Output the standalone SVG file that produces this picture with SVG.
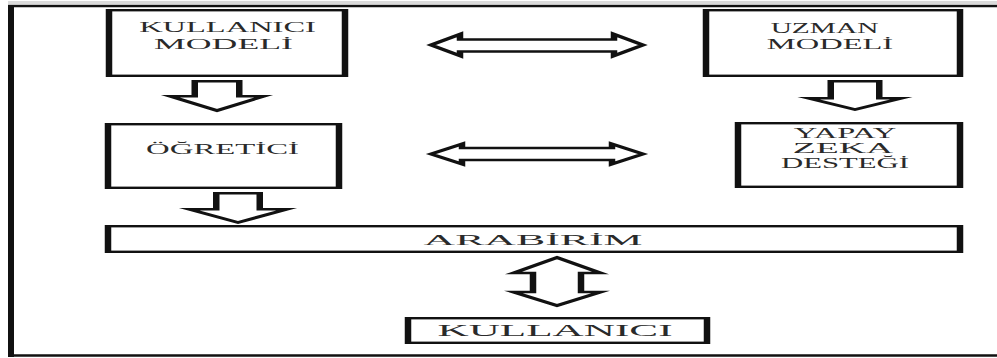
<svg xmlns="http://www.w3.org/2000/svg" width="997" height="358" viewBox="0 0 997 358">
  <defs>
    <style>
      .frame { fill: none; stroke: #111; }
      .box { fill: #fff; stroke: #111; stroke-width: 2.4; }
      .side { fill: none; stroke: #111; stroke-width: 6.5; stroke-linecap: butt; }
      .blk { fill: #fff; stroke: #111; stroke-width: 2.6; stroke-linejoin: miter; }
      .lbl { font-family: "Liberation Serif", "Times New Roman", serif; fill: #2a2a2a; text-anchor: middle; }
    </style>
  </defs>
  <rect width="997" height="358" fill="#fff"/>

  <!-- outer frame: heavy left rule, light top and bottom rules -->
  <g id="frame">
    <path d="M 8 2.5 H 997" stroke="#dadada" stroke-width="3" fill="none"/>
    <path class="frame" d="M 8 6 H 997" stroke-width="2.5"/>
    <path class="frame" d="M 8 355.5 H 997" stroke-width="2.5"/>
    <path class="frame" d="M 11 5 V 357" stroke-width="6"/>
  </g>

  <!-- connectors: block arrows, drawn in a horizontally stretched local frame -->
  <g id="connectors">
    <path class="blk" transform="translate(537 0) scale(2.5 1)" d="M -42.4 45 L -30.8 34.3 V 39.5 H 30.8 V 34.3 L 42.4 45 L 30.8 55.7 V 51.5 H -30.8 V 55.7 Z"/>
    <path class="blk" transform="translate(537 0) scale(2.5 1)" d="M -42.4 154 L -30 144 V 148 H 30 V 144 L 42.4 154 L 30 164 V 160 H -30 V 164 Z"/>
    <path class="blk" transform="translate(217 0) scale(2.5 1)" d="M -8.9 81.3 H 8.9 V 96.3 H 18.6 L 0 110.5 L -18.6 96.3 H -8.9 Z"/>
    <path class="blk" transform="translate(855 0) scale(2.5 1)" d="M -9.7 81.3 H 9.7 V 98.3 H 18.4 L 0 109.5 L -18.4 98.3 H -9.7 Z"/>
    <path class="blk" transform="translate(238 0) scale(2.5 1)" d="M -8.7 193.3 H 8.7 V 209.3 H 19.4 L 0 222.5 L -19.4 209.3 H -8.7 Z"/>
    <path class="blk" transform="translate(557 0) scale(2.5 1)" d="M 0 257.5 L 17.4 273 H 9.6 V 292 H 17.4 L 0 305.5 L -17.4 292 H -9.6 V 273 H -17.4 Z"/>
  </g>

  <!-- labels are widened with a horizontal scale, as in the printed figure -->
  <g id="kullanici-modeli">
    <rect class="box" x="109" y="10.2" width="236" height="65.6"/>
    <path class="side" d="M 109 9 V 77 M 345 9 V 77"/>
    <text class="lbl" font-size="14" transform="translate(227.5 32) scale(2.32 1)">KULLANICI</text>
    <text class="lbl" font-size="14" transform="translate(223.5 49) scale(2.55 1)">MODELİ</text>
  </g>

  <g id="uzman-modeli">
    <rect class="box" x="706" y="10.2" width="254" height="65.6"/>
    <path class="side" d="M 706 9 V 77 M 960 9 V 77"/>
    <text class="lbl" font-size="14" transform="translate(824.5 33) scale(2.1 1)">UZMAN</text>
    <text class="lbl" font-size="14" transform="translate(830 49) scale(2.32 1)">MODELİ</text>
  </g>

  <g id="ogretici">
    <rect class="box" x="108" y="124.2" width="231" height="63.6"/>
    <path class="side" d="M 108 123 V 189 M 339 123 V 189"/>
    <text class="lbl" font-size="14" transform="translate(222.5 154) scale(2.34 1)">ÖĞRETİCİ</text>
  </g>

  <g id="yapay-zeka-destegi">
    <rect class="box" x="738" y="123.2" width="222" height="63.6"/>
    <path class="side" d="M 738 122 V 188 M 960 122 V 188"/>
    <text class="lbl" font-size="14.5" transform="translate(845 138) scale(2.24 1)">YAPAY</text>
    <text class="lbl" font-size="14.5" transform="translate(843 153) scale(2.6 1)">ZEKA</text>
    <text class="lbl" font-size="14.5" transform="translate(845 168) scale(2.12 1)">DESTEĞİ</text>
  </g>

  <g id="arabirim">
    <rect class="box" x="108" y="226.2" width="852" height="25.6"/>
    <path class="side" d="M 108 225 V 253 M 960 225 V 253"/>
    <text class="lbl" font-size="15" transform="translate(533 245) scale(2.92 1)">ARABİRİM</text>
  </g>

  <g id="kullanici">
    <rect class="box" x="408" y="318.2" width="299" height="24.6"/>
    <path class="side" d="M 408 317 V 344 M 707 317 V 344"/>
    <text class="lbl" font-size="16" transform="translate(555 336) scale(2.7 1)">KULLANICI</text>
  </g>
</svg>
